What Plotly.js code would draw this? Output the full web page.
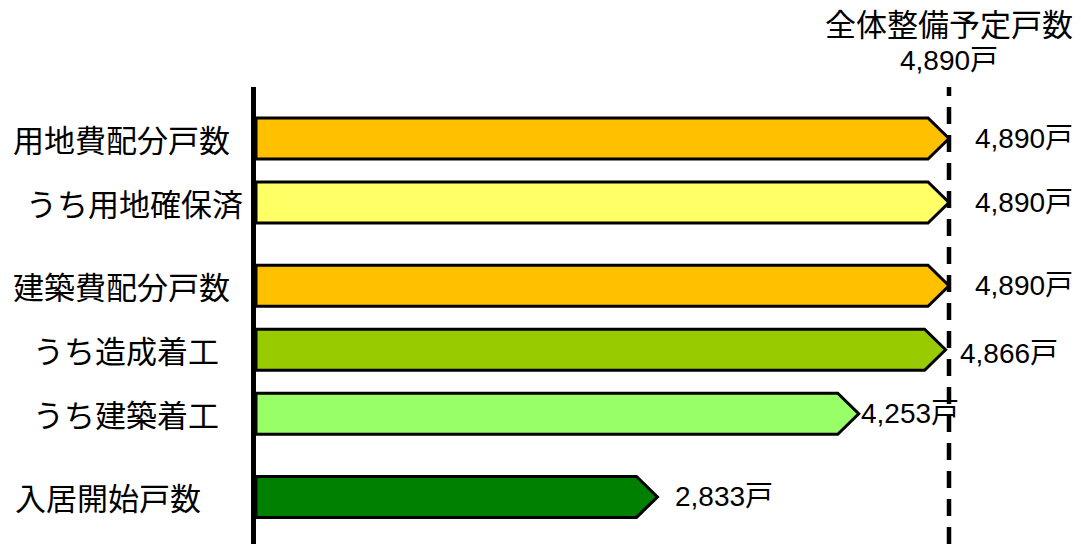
<!DOCTYPE html>
<html><head><meta charset="utf-8">
<script src="https://cdn.plot.ly/plotly-3.0.1.min.js"></script>
<style>html,body{margin:0;padding:0;background:#fff;overflow:hidden;} #chart{width:1081px;height:544px;}</style>
</head><body><div id="chart"></div>
<script>
// ---- data ----
const categories = ['用地費配分戸数','うち用地確保済','建築費配分戸数','うち造成着工','うち建築着工','入居開始戸数'];
const values = [4890, 4890, 4890, 4866, 4253, 2833];
const valueLabels = ['4,890戸','4,890戸','4,890戸','4,866戸','4,253戸','2,833戸'];
const totalPlanned = 4890;
const totalTitle = '全体整備予定戸数';
const totalLabel = '4,890戸';

// ---- styling / layout ----
const colors = ['#FFC000','#FFFF66','#FFC000','#99CC00','#99FF66','#008000'];
const rowPos = [0, 1, 2.3, 3.3, 4.3, 5.6];
const labelIndent = [11, 24, 11, 31, 31, 13];
const labelDx = [24, 24, 24, 12, 0, 16];
const labelDy = [0, 0, 0, -4, 0, 0];

const W = 1081, H = 544, mL = 256, mT = 87, mR = 0, mB = 0;
const plotW = W - mL - mR, plotH = H - mT - mB;
const pxPerTotal = 693;
const xMax = totalPlanned * plotW / pxPerTotal;
const unitPx = 64;
const yTop = (mT - 138.5) / unitPx;
const yBot = yTop + plotH / unitPx;
const tip = 21 * xMax / plotW;
const halfH = 20.5 / unitPx;

const cjk = '"Noto Sans CJK JP", "Noto Sans CJK SC", sans-serif';
const num = '"Liberation Sans", Arial, "Noto Sans CJK JP", sans-serif';

const traces = values.map((v, i) => {
  const p = rowPos[i];
  return {
    type: 'scatter', mode: 'lines',
    x: [0, v - tip, v, v - tip, 0, 0],
    y: [p - halfH, p - halfH, p, p + halfH, p + halfH, p - halfH],
    fill: 'toself', fillcolor: colors[i],
    line: {color: '#000', width: 3},
    hoverinfo: 'skip', showlegend: false
  };
});

const annotations = [];
categories.forEach((c, i) => {
  annotations.push({
    text: c, xref: 'paper', x: 0, xanchor: 'left', xshift: labelIndent[i] - mL,
    yref: 'y', y: rowPos[i], yanchor: 'middle',
    showarrow: false, font: {family: cjk, size: 31, color: '#000'}
  });
  annotations.push({
    text: valueLabels[i], xref: 'x', x: values[i], xanchor: 'left', xshift: labelDx[i],
    yref: 'y', y: rowPos[i], yanchor: 'middle', yshift: labelDy[i],
    showarrow: false, font: {family: num, size: 28, color: '#000'}
  });
});
annotations.push({
  text: totalTitle, xref: 'x', x: totalPlanned, xanchor: 'center',
  yref: 'paper', y: 1, yanchor: 'middle', yshift: mT - 22,
  showarrow: false, font: {family: cjk, size: 31, color: '#000'}
});
annotations.push({
  text: totalLabel, xref: 'x', x: totalPlanned, xanchor: 'center',
  yref: 'paper', y: 1, yanchor: 'middle', yshift: mT - 60,
  showarrow: false, font: {family: num, size: 28, color: '#000'}
});

const layout = {
  width: W, height: H,
  margin: {l: mL, r: mR, t: mT, b: mB, pad: 0},
  paper_bgcolor: '#fff', plot_bgcolor: '#fff',
  xaxis: {range: [0, xMax], showgrid: false, zeroline: false, showticklabels: false, showline: false, fixedrange: true},
  yaxis: {range: [yBot, yTop], showgrid: false, zeroline: false, showticklabels: false, showline: false, fixedrange: true},
  shapes: [
    {type: 'line', xref: 'x', x0: totalPlanned, x1: totalPlanned, yref: 'paper', y0: 0, y1: 1,
     line: {color: '#000', width: 4.5, dash: '17px,11px'}, layer: 'above'},
    {type: 'line', xref: 'paper', x0: -2.5 / plotW, x1: -2.5 / plotW, yref: 'paper', y0: 0, y1: 1,
     line: {color: '#000', width: 5}, layer: 'above'}
  ],
  annotations: annotations,
  showlegend: false
};

Plotly.newPlot('chart', traces, layout, {staticPlot: true, displayModeBar: false});
</script>
</body></html>
